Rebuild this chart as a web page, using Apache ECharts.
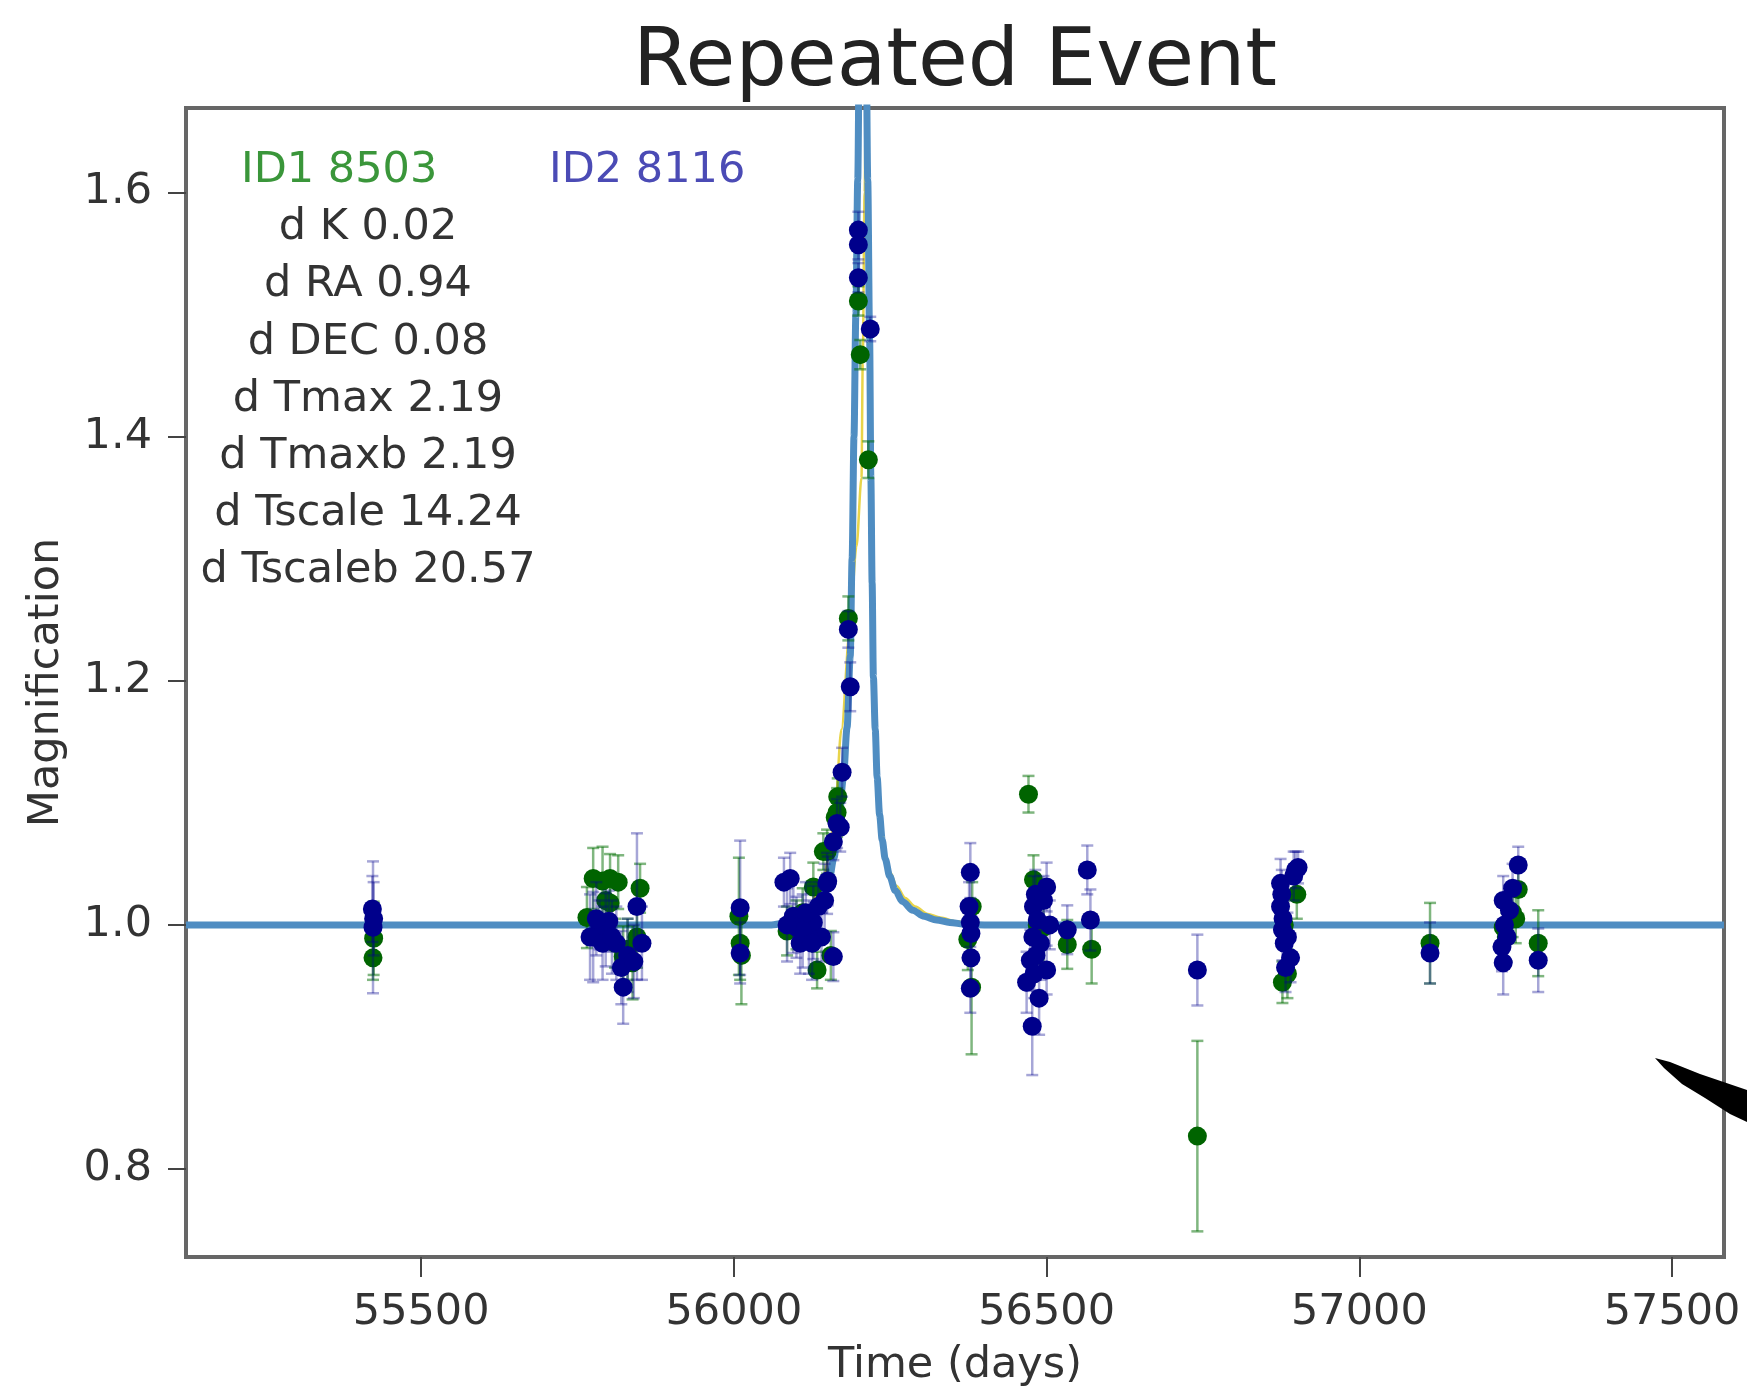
<!DOCTYPE html>
<html>
<head>
<meta charset="utf-8">
<script src="https://cdn.jsdelivr.net/npm/echarts@6.0.0/dist/echarts.min.js"></script>
<style>
html, body { margin: 0; padding: 0; background: #fff; }
#main { width: 1747px; height: 1389px; }
</style>
</head>
<body>
<div id="main"></div>
<script>
var xTicks = [55500, 56000, 56500, 57000, 57500];
var yTicks = [0.8, 1.0, 1.2, 1.4, 1.6];

// [time, magnification, error]
var id1Points = [
  [55423, 0.973, 0.018], [55424, 0.989, 0.03],
  [55775, 1.038, 0.025], [55790, 1.036, 0.028], [55802, 1.038, 0.02], [55815, 1.035, 0.022],
  [55850, 1.030, 0.02], [55802, 1.018, 0.02], [55765, 1.006, 0.025], [55823, 0.974, 0.025],
  [55838, 0.969, 0.03], [55810, 0.985, 0.02], [55845, 0.990, 0.025], [55795, 1.020, 0.02],
  [55830, 0.980, 0.025],
  [56010, 0.985, 0.03], [56008, 1.007, 0.048], [56012, 0.975, 0.04],
  [56133, 0.963, 0.015], [56127, 1.031, 0.02], [56149, 1.060, 0.018], [56165, 1.092, 0.02],
  [56143, 1.060, 0.015], [56162, 1.088, 0.015], [56183, 1.251, 0.018], [56199, 1.511, 0.012],
  [56202, 1.467, 0.012], [56215, 1.381, 0.015], [56100, 1.000, 0.02], [56085, 0.995, 0.02],
  [56110, 1.010, 0.02], [56155, 0.975, 0.02], [56166, 1.105, 0.015],
  [56381, 1.015, 0.02], [56374, 0.988, 0.025], [56380, 0.949, 0.055],
  [56471, 1.107, 0.015], [56479, 1.037, 0.02], [56495, 0.998, 0.03], [56533, 0.984, 0.02],
  [56572, 0.980, 0.028], [56485, 1.000, 0.02],
  [56741, 0.827, 0.078],
  [56900, 1.025, 0.02], [56877, 0.953, 0.017], [56885, 0.960, 0.02], [56880, 1.000, 0.02],
  [57113, 0.985, 0.033],
  [57254, 1.029, 0.02], [57230, 0.998, 0.02], [57250, 1.005, 0.02], [57286, 0.985, 0.027],
  [57235, 0.990, 0.02], [57245, 1.010, 0.02]
];
var id2Points = [
  [55422, 1.013, 0.027], [55423, 0.998, 0.054], [55424, 1.005, 0.03],
  [55795, 0.996, 0.03], [55775, 0.990, 0.037], [55812, 0.985, 0.03], [55845, 1.015, 0.06],
  [55853, 0.985, 0.03], [55823, 0.949, 0.03], [55785, 1.000, 0.02], [55770, 0.990, 0.035],
  [55830, 0.975, 0.03], [55800, 1.003, 0.025], [55780, 1.005, 0.03], [55790, 0.985, 0.03],
  [55805, 0.990, 0.03], [55820, 0.965, 0.03], [55840, 0.970, 0.03],
  [56010, 1.014, 0.055], [56010, 0.977, 0.025],
  [56090, 1.038, 0.021], [56080, 1.035, 0.02], [56095, 1.007, 0.03], [56106, 0.985, 0.025],
  [56127, 1.002, 0.03], [56115, 1.010, 0.025], [56140, 0.990, 0.02], [56149, 1.034, 0.025],
  [56159, 0.974, 0.02], [56170, 1.080, 0.02], [56159, 1.068, 0.015], [56165, 1.083, 0.02],
  [56173, 1.125, 0.02], [56186, 1.195, 0.02], [56183, 1.242, 0.015], [56199, 1.569, 0.015],
  [56199, 1.557, 0.012], [56199, 1.530, 0.012], [56218, 1.488, 0.01], [56150, 1.036, 0.02],
  [56100, 0.998, 0.025], [56120, 0.990, 0.03], [56135, 1.015, 0.02], [56110, 0.995, 0.03],
  [56125, 0.985, 0.03], [56145, 1.020, 0.03], [56085, 1.000, 0.03],
  [56378, 1.043, 0.024], [56376, 1.015, 0.02], [56378, 1.002, 0.02], [56379, 0.993, 0.02],
  [56379, 0.973, 0.02], [56378, 0.948, 0.02],
  [56500, 1.031, 0.02], [56479, 1.015, 0.025], [56485, 1.004, 0.02], [56474, 0.971, 0.025],
  [56500, 0.963, 0.02], [56468, 0.953, 0.025], [56477, 0.917, 0.04], [56533, 0.996, 0.02],
  [56565, 1.045, 0.02], [56570, 1.004, 0.025], [56490, 0.985, 0.03], [56480, 0.960, 0.02],
  [56482, 1.025, 0.02], [56478, 0.990, 0.02], [56483, 0.975, 0.02], [56488, 0.940, 0.03],
  [56505, 1.000, 0.02], [56495, 1.020, 0.02],
  [56741, 0.963, 0.029],
  [56902, 1.047, 0.013], [56874, 1.034, 0.02], [56874, 1.015, 0.02], [56877, 0.996, 0.025],
  [56880, 0.985, 0.02], [56890, 0.973, 0.02], [56895, 1.040, 0.02], [56876, 1.025, 0.02],
  [56878, 1.005, 0.02], [56882, 0.965, 0.02], [56898, 1.045, 0.015], [56885, 0.990, 0.02],
  [57113, 0.977, 0.025],
  [57254, 1.049, 0.015], [57230, 1.020, 0.02], [57240, 1.012, 0.02], [57228, 0.982, 0.02],
  [57230, 0.969, 0.026], [57286, 0.971, 0.026], [57232, 1.000, 0.02], [57236, 0.990, 0.02],
  [57245, 1.030, 0.02]
];

// model curves
var modelBlue = [
  [55124, 1.0], [56060, 1.0], [56100, 1.003], [56125, 1.010], [56140, 1.020], [56152, 1.036],
  [56160, 1.055], [56167, 1.080], [56175, 1.12], [56181, 1.162], [56186, 1.22], [56189, 1.30],
  [56192, 1.40], [56195, 1.50], [56198, 1.61], [56201, 1.75], [56207, 2.0], [56211, 1.75],
  [56214, 1.61], [56217, 1.48], [56219, 1.366], [56221, 1.28], [56223, 1.203], [56226, 1.16],
  [56229, 1.121], [56233, 1.090], [56237, 1.070], [56242, 1.054], [56249, 1.040],
  [56258, 1.028], [56270, 1.019], [56286, 1.012], [56304, 1.007], [56324, 1.004],
  [56345, 1.002], [56370, 1.0005], [56400, 1.0], [57583, 1.0]
];
var modelYellow = [
  [55124, 1.0], [56060, 1.0], [56110, 1.006], [56140, 1.030], [56160, 1.08], [56172, 1.16],
  [56185, 1.24], [56196, 1.31], [56204, 1.366], [56206, 1.46], [56209, 1.6], [56212, 1.75],
  [56215, 1.6], [56218, 1.45], [56220, 1.33], [56223, 1.21], [56227, 1.14], [56234, 1.09],
  [56242, 1.058], [56250, 1.043], [56260, 1.032], [56274, 1.022], [56290, 1.015],
  [56310, 1.009], [56330, 1.006], [56355, 1.003], [56385, 1.001], [56420, 1.0], [57583, 1.0]
];

var id1Label = 'ID1 8503';
var id2Label = 'ID2 8116';
var statLabels = ['d K 0.02', 'd RA 0.94', 'd DEC 0.08', 'd Tmax 2.19', 'd Tmaxb 2.19',
  'd Tscale 14.24', 'd Tscaleb 20.57'];

var FONT = '"DejaVu Sans", sans-serif';

function errorBars(color) {
  return function (params, api) {
    var x = api.value(0), y = api.value(1), e = api.value(2);
    var lo = api.coord([x, y - e]);
    var hi = api.coord([x, y + e]);
    var cap = 6;
    var style = { stroke: color, lineWidth: 2.5 };
    return {
      type: 'group',
      children: [
        { type: 'line', shape: { x1: lo[0], y1: lo[1], x2: hi[0], y2: hi[1] }, style: style },
        { type: 'line', shape: { x1: lo[0] - cap, y1: lo[1], x2: lo[0] + cap, y2: lo[1] }, style: style },
        { type: 'line', shape: { x1: hi[0] - cap, y1: hi[1], x2: hi[0] + cap, y2: hi[1] }, style: style }
      ]
    };
  };
}

var texts = [
  { type: 'text', x: 955, y: 64, style: { text: 'Repeated Event', font: '81px ' + FONT, fill: '#222', align: 'center', verticalAlign: 'middle' } },
  { type: 'text', x: 241, y: 171, style: { text: id1Label, font: '43px ' + FONT, fill: '#3a963a', align: 'left', verticalAlign: 'middle' } },
  { type: 'text', x: 549, y: 171, style: { text: id2Label, font: '43px ' + FONT, fill: '#4b4bb5', align: 'left', verticalAlign: 'middle' } }
];
statLabels.forEach(function (s, i) {
  texts.push({ type: 'text', x: 368, y: 228 + i * 57.2,
    style: { text: s, font: '43px ' + FONT, fill: '#333', align: 'center', verticalAlign: 'middle' } });
});
// stray pen mark at right edge of the scan
texts.push({ type: 'polygon', shape: { points: [[1655, 1058], [1670, 1062], [1700, 1074], [1747, 1090],
  [1747, 1122], [1730, 1114], [1705, 1098], [1682, 1084], [1664, 1068]] }, style: { fill: '#000' } });

var chart = echarts.init(document.getElementById('main'));
chart.setOption({
  animation: false,
  backgroundColor: '#fff',
  textStyle: { fontFamily: FONT },
  grid: { left: 186, right: 23, top: 108, bottom: 132, show: true, borderColor: '#666', borderWidth: 4,
    containLabel: false, outerBoundsMode: 'none' },
  xAxis: {
    type: 'value', min: 55124, max: 57583,
    axisLine: { show: false },
    splitLine: { show: false },
    axisTick: { show: true, length: 20, customValues: xTicks, lineStyle: { color: '#444', width: 2 } },
    axisLabel: { customValues: xTicks, fontSize: 43, color: '#333', margin: 34, fontFamily: FONT,
      formatter: function (v) { return String(v); } },
    name: 'Time (days)', nameLocation: 'middle', nameGap: 87,
    nameTextStyle: { fontSize: 43, color: '#333', fontFamily: FONT }
  },
  yAxis: {
    type: 'value', min: 0.728, max: 1.669,
    axisLine: { show: false },
    splitLine: { show: false },
    axisTick: { show: true, length: 18, customValues: yTicks, lineStyle: { color: '#444', width: 2 } },
    axisLabel: { customValues: yTicks, fontSize: 43, color: '#333', margin: 34, fontFamily: FONT,
      formatter: function (v) { return v.toFixed(1); } },
    name: 'Magnification', nameLocation: 'middle', nameGap: 118, nameRotate: 90,
    nameTextStyle: { fontSize: 43, color: '#333', fontFamily: FONT }
  },
  series: [
    { type: 'line', data: modelYellow, showSymbol: false, smooth: 0.3, smoothMonotone: 'x',
      lineStyle: { color: '#e8d44a', width: 2.5 }, clip: true, z: 1 },
    { type: 'line', data: modelBlue, showSymbol: false, smooth: 0.3, smoothMonotone: 'x',
      lineStyle: { color: '#4f8dc2', width: 7 }, clip: true, z: 2 },
    { type: 'custom', data: id1Points, renderItem: errorBars('rgba(0,110,0,0.5)'),
      encode: { x: 0, y: 1 }, clip: true, z: 3 },
    { type: 'scatter', data: id1Points, symbolSize: 19, itemStyle: { color: '#006400', opacity: 1 },
      encode: { x: 0, y: 1 }, z: 4 },
    { type: 'custom', data: id2Points, renderItem: errorBars('rgba(0,0,139,0.35)'),
      encode: { x: 0, y: 1 }, clip: true, z: 5 },
    { type: 'scatter', data: id2Points, symbolSize: 19, itemStyle: { color: '#00008b', opacity: 1 },
      encode: { x: 0, y: 1 }, z: 6 }
  ],
  graphic: texts
});
</script>
</body>
</html>
